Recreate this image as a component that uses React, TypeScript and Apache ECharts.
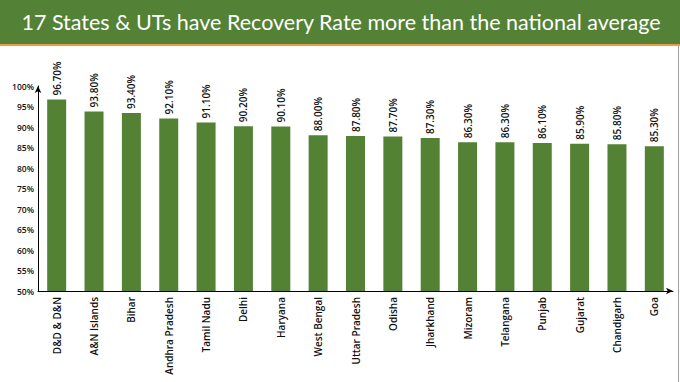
import React, { useEffect, useRef } from "react";
import * as echarts from "echarts";

const TITLE = "17 States & UTs have Recovery Rate more than the national average";
const categories = [
  "D&D & D&N", "A&N Islands", "Bihar", "Andhra Pradesh", "Tamil Nadu", "Delhi",
  "Haryana", "West Bengal", "Uttar Pradesh", "Odisha", "Jharkhand", "Mizoram",
  "Telangana", "Punjab", "Gujarat", "Chandigarh", "Goa",
];
const recoveryRate = [
  96.7, 93.8, 93.4, 92.1, 91.1, 90.2, 90.1, 88.0, 87.8, 87.7, 87.3, 86.3, 86.3, 86.1, 85.9, 85.8, 85.3,
];
const yMin = 50;
const yMax = 100;
const yStep = 5;

export default function App() {
  const ref = useRef<HTMLDivElement>(null);
  useEffect(() => {
    if (!ref.current) return;
    const chart = echarts.init(ref.current, undefined, { renderer: "svg" });
    const font = "'Open Sans', sans-serif";
    chart.setOption({
      animation: false,
      backgroundColor: "#ffffff",
      graphic: [
        { type: "rect", shape: { x: 0, y: 0, width: 680, height: 44 }, style: { fill: "#538135" } },
        { type: "rect", shape: { x: 0, y: 44, width: 680, height: 2 }, style: { fill: "#ED9A4A" } },
        {
          type: "text",
          x: 341,
          y: 22,
          style: {
            text: TITLE,
            fill: "#ffffff",
            font: "21.5px Lato, sans-serif",
            textAlign: "center",
            textVerticalAlign: "middle",
          },
        },
        { type: "line", shape: { x1: 678.5, y1: 46, x2: 678.5, y2: 382 }, style: { stroke: "#a0a0a0", lineWidth: 1 } },
      ],
      grid: { left: 38, right: 7, top: 86, bottom: 91, containLabel: false },
      xAxis: {
        type: "category",
        data: categories,
        axisLine: { show: true, lineStyle: { color: "#000", width: 1 }, symbol: ["none", "arrow"], symbolSize: [5, 7] },
        axisTick: { show: false },
        axisLabel: {
          rotate: 90,
          interval: 0,
          fontFamily: font,
          fontWeight: 600,
          fontSize: 10,
          color: "#111",
          margin: 6,
        },
      },
      yAxis: {
        type: "value",
        min: yMin,
        max: yMax,
        interval: yStep,
        axisLine: { show: true, lineStyle: { color: "#000", width: 1 }, symbol: ["none", "arrow"], symbolSize: [5, 7] },
        axisTick: { show: false },
        splitLine: { show: false },
        axisLabel: {
          formatter: "{value}%",
          fontFamily: font,
          fontWeight: 600,
          fontSize: 8.5,
          color: "#111",
          margin: 4,
        },
      },
      series: [
        {
          type: "bar",
          data: recoveryRate,
          barWidth: 19,
          itemStyle: { color: "#548235" },
          label: {
            show: true,
            position: "top",
            rotate: 90,
            align: "left",
            verticalAlign: "middle",
            distance: 4,
            formatter: (p: any) => p.value.toFixed(2) + "%",
            fontFamily: font,
            fontWeight: 600,
            fontSize: 10,
            color: "#111",
          },
        },
      ],
    });
    return () => chart.dispose();
  }, []);
  return <div ref={ref} style={{ position: "fixed", left: 0, top: 0, width: 680, height: 382 }} />;
}
